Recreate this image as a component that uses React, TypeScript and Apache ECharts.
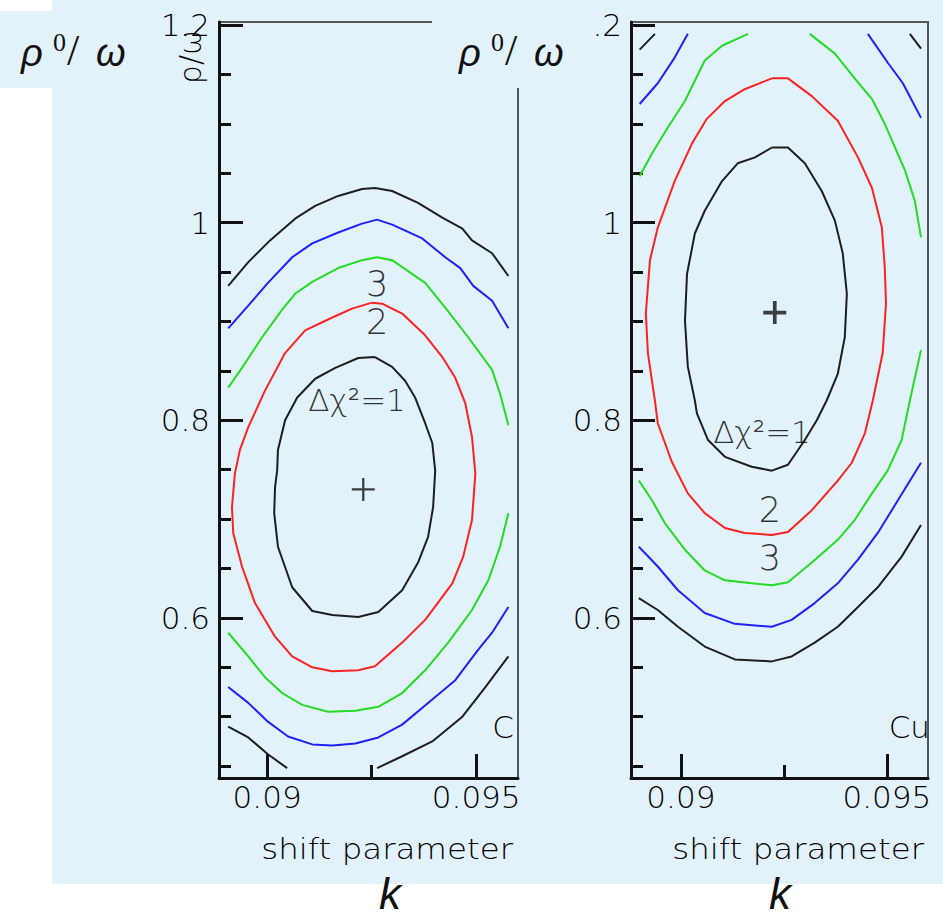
import React, { useEffect, useRef } from 'react';
import * as echarts from 'echarts';

// ---------- axes ----------
const X_MIN_C = 0.08885;
const X_MIN_CU = 0.08879;
const X_MAX = 0.096;
const Y_MIN = 0.438;
const Y_MAX = 1.203;
const X_TICKS_MAJOR = [0.09, 0.095];
const X_TICKS_MINOR = [0.0925];
const Y_TICKS_MAJOR = [0.6, 0.8, 1.0, 1.2];
const Y_TICKS_MINOR = [0.45, 0.5, 0.55, 0.6, 0.65, 0.7, 0.75, 0.8, 0.85, 0.9, 0.95, 1.0, 1.05, 1.1, 1.15, 1.2];

// ---------- C panel contours [k, rho/omega] ----------
const cBlackTop = [[0.08907,0.936],[0.08955,0.960],[0.09007,0.982],[0.09067,1.004],[0.09115,1.017],[0.09170,1.027],[0.09227,1.034],[0.09258,1.035],[0.09299,1.032],[0.09361,1.020],[0.09419,1.005],[0.09467,0.994],[0.09490,0.982],[0.09538,0.969],[0.09577,0.946]];
const cBlueTop = [[0.08907,0.893],[0.08955,0.916],[0.09002,0.939],[0.09060,0.965],[0.09108,0.979],[0.09170,0.990],[0.09227,0.999],[0.09263,1.003],[0.09299,0.998],[0.09371,0.984],[0.09426,0.965],[0.09462,0.954],[0.09493,0.936],[0.09538,0.921],[0.09577,0.893]];
const cGreenTop = [[0.08907,0.833],[0.08940,0.853],[0.08988,0.884],[0.09036,0.912],[0.09067,0.928],[0.09108,0.940],[0.09170,0.954],[0.09227,0.962],[0.09263,0.965],[0.09299,0.962],[0.09378,0.939],[0.09426,0.914],[0.09481,0.884],[0.09538,0.851],[0.09557,0.827],[0.09577,0.795]];
const cGreenBot = [[0.08907,0.585],[0.08955,0.561],[0.08995,0.540],[0.09036,0.524],[0.09084,0.512],[0.09146,0.505],[0.09211,0.506],[0.09266,0.510],[0.09323,0.524],[0.09378,0.547],[0.09433,0.575],[0.09490,0.608],[0.09529,0.638],[0.09557,0.672],[0.09577,0.706]];
const cBlueBot = [[0.08907,0.530],[0.08955,0.514],[0.09002,0.495],[0.09050,0.480],[0.09108,0.472],[0.09156,0.471],[0.09211,0.473],[0.09266,0.479],[0.09323,0.492],[0.09385,0.514],[0.09450,0.537],[0.09505,0.568],[0.09538,0.585],[0.09577,0.611]];
const cBlackBotL = [[0.08907,0.490],[0.08955,0.479],[0.09002,0.462],[0.09048,0.448]];
const cBlackBotR = [[0.09263,0.448],[0.09323,0.460],[0.09395,0.475],[0.09467,0.500],[0.09522,0.530],[0.09577,0.561]];
const cRed = [[0.09251,0.919],[0.09275,0.918],[0.09323,0.908],[0.09378,0.886],[0.09419,0.864],[0.09450,0.843],[0.09474,0.817],[0.09490,0.783],[0.09498,0.746],[0.09490,0.699],[0.09469,0.662],[0.09443,0.635],[0.09378,0.598],[0.09323,0.575],[0.09258,0.551],[0.09218,0.547],[0.09156,0.546],[0.09108,0.550],[0.09060,0.561],[0.09019,0.581],[0.08971,0.615],[0.08940,0.652],[0.08919,0.686],[0.08916,0.712],[0.08923,0.746],[0.08935,0.770],[0.08955,0.793],[0.08995,0.830],[0.09043,0.868],[0.09091,0.891],[0.09156,0.904],[0.09203,0.913],[0.09251,0.919]];
const cInner = [[0.09258,0.864],[0.09299,0.854],[0.09330,0.840],[0.09354,0.823],[0.09378,0.797],[0.09395,0.777],[0.09402,0.749],[0.09397,0.712],[0.09385,0.682],[0.09361,0.656],[0.09323,0.628],[0.09266,0.606],[0.09218,0.601],[0.09156,0.603],[0.09108,0.607],[0.09060,0.631],[0.09026,0.672],[0.09017,0.706],[0.09019,0.732],[0.09024,0.749],[0.09026,0.770],[0.09043,0.800],[0.09072,0.823],[0.09115,0.842],[0.09163,0.853],[0.09218,0.863],[0.09258,0.864]];
const cBest = [0.0923, 0.730];
const cLabels = [
  { name: '3', value: [0.09263, 0.938] },
  { name: '2', value: [0.09263, 0.899] },
  { name: 'Δχ²=1', value: [0.09215, 0.820] },
];

// ---------- Cu panel contours ----------
const cuBlackTopL = [[0.08900,1.175],[0.08937,1.191]];
const cuBlackTopR = [[0.09556,1.191],[0.09583,1.176]];
const cuBlueTopL = [[0.08900,1.120],[0.08944,1.141],[0.08985,1.167],[0.09017,1.191]];
const cuBlueTopR = [[0.09454,1.191],[0.09502,1.162],[0.09539,1.141],[0.09583,1.106]];
const cuGreenTopL = [[0.08900,1.047],[0.08930,1.070],[0.08968,1.096],[0.09010,1.123],[0.09058,1.164],[0.09100,1.179],[0.09163,1.191]];
const cuGreenTopR = [[0.09313,1.191],[0.09374,1.171],[0.09422,1.146],[0.09464,1.125],[0.09495,1.100],[0.09544,1.053],[0.09568,1.022],[0.09583,0.985]];
const cuGreenBot = [[0.09583,0.871],[0.09556,0.820],[0.09536,0.780],[0.09502,0.749],[0.09464,0.726],[0.09422,0.699],[0.09381,0.679],[0.09318,0.656],[0.09260,0.636],[0.09221,0.633],[0.09172,0.635],[0.09107,0.638],[0.09058,0.648],[0.09010,0.669],[0.08961,0.696],[0.08930,0.719],[0.08898,0.739]];
const cuRed = [[0.09221,1.146],[0.09260,1.146],[0.09318,1.128],[0.09381,1.103],[0.09430,1.066],[0.09464,1.035],[0.09488,0.995],[0.09495,0.955],[0.09498,0.918],[0.09490,0.868],[0.09466,0.820],[0.09447,0.787],[0.09415,0.757],[0.09381,0.739],[0.09318,0.709],[0.09260,0.687],[0.09221,0.684],[0.09155,0.686],[0.09107,0.691],[0.09058,0.706],[0.09017,0.726],[0.08978,0.758],[0.08944,0.797],[0.08937,0.820],[0.08920,0.868],[0.08915,0.908],[0.08925,0.962],[0.08944,0.995],[0.08985,1.042],[0.09027,1.080],[0.09063,1.105],[0.09107,1.123],[0.09155,1.135],[0.09221,1.146]];
const cuInner = [[0.09221,1.076],[0.09260,1.076],[0.09301,1.060],[0.09342,1.032],[0.09374,1.002],[0.09393,0.969],[0.09403,0.928],[0.09398,0.884],[0.09381,0.847],[0.09354,0.820],[0.09330,0.800],[0.09301,0.780],[0.09260,0.755],[0.09221,0.749],[0.09172,0.753],[0.09107,0.763],[0.09066,0.780],[0.09039,0.807],[0.09034,0.820],[0.09017,0.854],[0.09010,0.901],[0.09015,0.948],[0.09034,0.989],[0.09058,1.012],[0.09100,1.042],[0.09138,1.060],[0.09180,1.066],[0.09221,1.076]];
const cuBlueBot = [[0.08898,0.672],[0.08944,0.652],[0.08993,0.628],[0.09058,0.605],[0.09131,0.594],[0.09221,0.591],[0.09269,0.598],[0.09325,0.615],[0.09381,0.635],[0.09430,0.659],[0.09478,0.686],[0.09527,0.719],[0.09583,0.757]];
const cuBlackBot = [[0.08898,0.620],[0.08944,0.608],[0.08993,0.591],[0.09058,0.571],[0.09131,0.558],[0.09221,0.556],[0.09269,0.561],[0.09325,0.575],[0.09381,0.591],[0.09430,0.611],[0.09478,0.631],[0.09536,0.662],[0.09583,0.694]];
const cuBest = [0.09228, 0.909];
const cuLabels = [
  { name: 'Δχ²=1', value: [0.09197, 0.788] },
  { name: '2', value: [0.09216, 0.709] },
  { name: '3', value: [0.09216, 0.661] },
];

// ---------- styles ----------
const BLACK = '#1e1e1e';
const BLUE = '#2020ff';
const GREEN = '#22dd22';
const RED = '#ff2020';
const AX = '#111';
const TXT = '#000';
const FONT = '"DejaVu Sans", sans-serif';
const BG = '#e2f2fb';

const PLUS_THIN = 'path://M9,0H11V20H9Z M0,9H20V11H0Z';
const PLUS_BOLD = 'path://M8.4,0H11.6V20H8.4Z M0,8.4H20V11.6H0Z';

function buildOption() {
  const grids = [
    { left: 219, top: 22, width: 299, height: 756 },
    { left: 631, top: 22, width: 297, height: 756 },
  ].map((g) => ({ ...g, show: true, borderColor: '#555', borderWidth: 2, backgroundColor: 'transparent' }));

  const lab = { fontSize: 31, fontFamily: FONT, fontWeight: 200, color: TXT };
  const xAxis: any[] = [];
  const yAxis: any[] = [];
  [X_MIN_C, X_MIN_CU].forEach((xmin, p) => {
    xAxis.push({
      type: 'value', gridIndex: p, min: xmin, max: X_MAX, position: 'bottom',
      axisLine: { show: true, onZero: false, lineStyle: { color: AX, width: 3 } },
      axisTick: { show: true, inside: true, length: 24, customValues: X_TICKS_MAJOR, lineStyle: { color: AX, width: 3 } },
      axisLabel: { show: true, customValues: X_TICKS_MAJOR, margin: 3, ...lab },
      splitLine: { show: false },
    });
    xAxis.push({
      type: 'value', gridIndex: p, min: xmin, max: X_MAX, position: 'bottom',
      axisLine: { show: false, onZero: false },
      axisTick: { show: true, inside: true, length: 13, customValues: X_TICKS_MINOR, lineStyle: { color: AX, width: 3 } },
      axisLabel: { show: false },
      splitLine: { show: false },
    });
    yAxis.push({
      type: 'value', gridIndex: p, min: Y_MIN, max: Y_MAX, position: 'left',
      axisLine: { show: true, onZero: false, lineStyle: { color: AX, width: 3 } },
      axisTick: { show: true, inside: true, length: 24, customValues: Y_TICKS_MAJOR, lineStyle: { color: AX, width: 3 } },
      axisLabel: { show: true, customValues: Y_TICKS_MAJOR, margin: 9, ...lab },
      splitLine: { show: false },
    });
    yAxis.push({
      type: 'value', gridIndex: p, min: Y_MIN, max: Y_MAX, position: 'left',
      axisLine: { show: false, onZero: false },
      axisTick: { show: true, inside: true, length: 12, customValues: Y_TICKS_MINOR, lineStyle: { color: AX, width: 3 } },
      axisLabel: { show: false },
      splitLine: { show: false },
    });
  });

  const panels = [
    {
      segs: [
        [cBlackTop, BLACK], [cBlueTop, BLUE], [cGreenTop, GREEN], [cGreenBot, GREEN], [cBlueBot, BLUE],
        [cBlackBotL, BLACK], [cBlackBotR, BLACK], [cRed, RED], [cInner, BLACK],
      ],
      best: cBest, labels: cLabels, plus: PLUS_THIN,
    },
    {
      segs: [
        [cuBlackTopL, BLACK], [cuBlackTopR, BLACK], [cuBlueTopL, BLUE], [cuBlueTopR, BLUE],
        [cuGreenTopL, GREEN], [cuGreenTopR, GREEN], [cuGreenBot, GREEN], [cuRed, RED], [cuInner, BLACK],
        [cuBlueBot, BLUE], [cuBlackBot, BLACK],
      ],
      best: cuBest, labels: cuLabels, plus: PLUS_BOLD,
    },
  ];

  const series: any[] = [];
  panels.forEach((pn, p) => {
    pn.segs.forEach(([data, color]: any) => {
      series.push({
        type: 'line', xAxisIndex: 2 * p, yAxisIndex: 2 * p, data, showSymbol: false, symbol: 'none',
        lineStyle: { color, width: 2 }, itemStyle: { color }, silent: true, clip: true, z: 3,
      });
    });
    series.push({
      type: 'scatter', xAxisIndex: 2 * p, yAxisIndex: 2 * p, data: [pn.best], symbol: pn.plus,
      symbolSize: 23, itemStyle: { color: '#111' }, silent: true, z: 4,
    });
    series.push({
      type: 'scatter', xAxisIndex: 2 * p, yAxisIndex: 2 * p, data: pn.labels, symbolSize: 1,
      itemStyle: { color: 'rgba(0,0,0,0)' }, silent: true, z: 5,
      label: {
        show: true, position: 'inside', color: TXT, fontFamily: FONT, fontWeight: 200,
        fontSize: 31,
        formatter: (d: any) => (d.name.length === 1 ? `{big|${d.name}}` : d.name),
        rich: { big: { fontSize: 35, fontFamily: FONT, fontWeight: 200, color: TXT } },
      },
    });
  });

  const t = (text: string, x: number, y: number, style: any, extra: any = {}) => ({
    type: 'text', x, y, z: 101, ...extra,
    style: { text, fill: '#111', align: 'left', verticalAlign: 'middle', ...style },
  });
  const sans = (size: number) => ({ fontSize: size, fontFamily: '"Liberation Sans", Arial, sans-serif', fontStyle: 'italic' });
  const serif = (size: number) => ({ fontSize: size, fontFamily: '"Liberation Serif", serif' });
  const rhoLabel = (dx: number) => [
    t('ρ', 21 + dx, 53, sans(38)),
    t('0', 53 + dx, 42, serif(26)),
    t('/', 67 + dx, 50, serif(44)),
    t('ω', 96 + dx, 53, sans(38)),
  ];
  const thin = { fontFamily: FONT, fontWeight: 200, fill: TXT };

  const graphic = [
    { type: 'rect', z: -10, shape: { x: 52, y: 0, width: 891, height: 884 }, style: { fill: BG } },
    { type: 'rect', z: 100, shape: { x: 0, y: 11, width: 160, height: 77 }, style: { fill: BG } },
    { type: 'rect', z: 100, shape: { x: 432, y: 11, width: 163, height: 77 }, style: { fill: BG } },
    ...rhoLabel(0),
    ...rhoLabel(438),
    t('ρ/ω', 190, 57, { fontSize: 30, align: 'center', ...thin }, { rotation: Math.PI / 2, z: 50 }),
    t('shift parameter', 513, 849, { fontSize: 29, align: 'right', ...thin }, { scaleX: 1.12, z: 50 }),
    t('shift parameter', 924, 849, { fontSize: 29, align: 'right', ...thin }, { scaleX: 1.12, z: 50 }),
    t('C', 514, 727, { fontSize: 31, align: 'right', ...thin }, { z: 50 }),
    t('Cu', 930, 727, { fontSize: 31, align: 'right', ...thin }, { z: 50 }),
    t('k', 390, 893, { ...sans(44), align: 'center' }),
    t('k', 780, 893, { ...sans(44), align: 'center' }),
  ];

  return { animation: false, backgroundColor: '#fff', grid: grids, xAxis, yAxis, series, graphic };
}

export default function App() {
  const ref = useRef<HTMLDivElement>(null);
  useEffect(() => {
    document.body.style.margin = '0';
    const chart = echarts.init(ref.current!, null, { renderer: 'svg' });
    chart.setOption(buildOption() as any);
    return () => chart.dispose();
  }, []);
  return <div ref={ref} style={{ width: 943, height: 917 }} />;
}
